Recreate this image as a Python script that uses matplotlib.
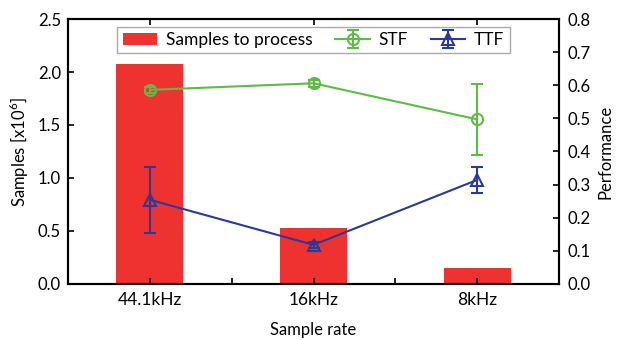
import matplotlib
matplotlib.use("Agg")
import matplotlib.pyplot as plt
import numpy as np

categories = ["44.1kHz", "16kHz", "8kHz"]
samples = [2.08, 0.53, 0.15]
stf = [0.586, 0.606, 0.497]
stf_err = [0.01, 0.01, 0.107]
ttf = [0.254, 0.118, 0.314]
ttf_err = [0.10, 0.01, 0.04]

plt.rcParams['font.family'] = ['Lato', 'DejaVu Sans']
plt.rcParams['font.size'] = 12
plt.rcParams['mathtext.fontset'] = 'custom'
plt.rcParams['mathtext.rm'] = 'Lato'

red = '#EE3230'
green = '#5DBB46'
blue = '#2B3A98'

fig = plt.figure(figsize=(6.2, 3.4), dpi=100)
ax = fig.add_axes([0.1097, 0.165, 0.7919, 0.779])
x = np.arange(len(categories))
bars = ax.bar(x, samples, width=0.41, color=red, label='Samples to process', zorder=1)
ax.set_xlim(-0.5, 2.5)
ax.set_ylim(0, 2.5)
ax.set_yticks([0, 0.5, 1.0, 1.5, 2.0, 2.5])
ax.set_yticklabels([f"{v:.1f}" for v in [0, 0.5, 1.0, 1.5, 2.0, 2.5]])
ax.set_xticks(x)
ax.set_xticklabels(categories, fontsize=12.5)
ax.set_xticks([0.5, 1.5], minor=True)
ax.tick_params(axis='x', which='both', direction='in', top=True, length=4, width=1.2, pad=6)
ax.tick_params(axis='x', which='minor', top=False)
ax.tick_params(axis='y', direction='in', length=4, width=1.2, pad=5)
ax.set_xlabel('Sample rate', labelpad=10)
ax.set_ylabel('Samples [x10$^6$]', labelpad=5)
for s in ax.spines.values():
    s.set_linewidth(1.5)

ax2 = ax.twinx()
ax2.set_ylim(0, 0.8)
ax2.set_yticks(np.round(np.arange(0, 0.81, 0.1), 1))
ax2.set_yticklabels([f"{v:.1f}" for v in np.arange(0, 0.81, 0.1)])
ax2.tick_params(axis='y', direction='in', length=4, width=1.2, pad=6)
ax2.set_ylabel('Performance', labelpad=5)
e1 = ax2.errorbar(x, stf, yerr=stf_err, color=green, marker='o', markersize=8,
                  markerfacecolor='none', markeredgewidth=1.5, linewidth=1.5,
                  capsize=4, capthick=1.5, elinewidth=1.5, label='STF')
e2 = ax2.errorbar(x, ttf, yerr=ttf_err, color=blue, marker='^', markersize=9,
                  markerfacecolor='none', markeredgewidth=1.5, linewidth=1.5,
                  capsize=4, capthick=1.5, elinewidth=1.5, label='TTF')
for s in ax2.spines.values():
    s.set_linewidth(1.5)

leg = ax2.legend([bars, e1, e2], ['Samples to process', 'STF', 'TTF'],
                 loc='upper center', bbox_to_anchor=(0.5, 0.97), ncol=3,
                 fancybox=False, edgecolor='#AAAAAA', framealpha=1,
                 borderpad=0.3, columnspacing=1.3, handlelength=2.0,
                 handletextpad=0.5, borderaxespad=0, fontsize=12.5)
leg.get_frame().set_linewidth(1.0)

fig.savefig('out.png', dpi=100)
